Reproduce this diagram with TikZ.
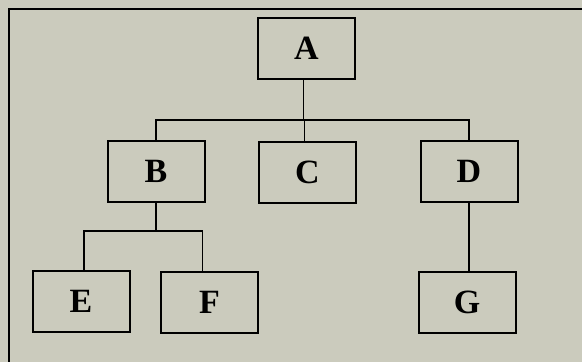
\documentclass[tikz,border=0pt]{standalone}
\usepackage{fontspec}
\setmainfont{Liberation Serif}
\usepackage{tikz}

\definecolor{paper}{RGB}{203,203,189}

\begin{document}
\begin{tikzpicture}[x=1pt, y=-1pt,
        box/.style={draw, line width=2pt, minimum width=97pt, minimum height=61pt,
                    inner sep=0pt, font=\bfseries\fontsize{34}{34}\selectfont},
        link/.style={line width=1.2pt}]
    \fill[paper] (0, 0) rectangle (582, 362);
    \useasboundingbox (0, 0) rectangle (582, 362);
    % frame, only the top and left edges show
    \draw[line width=2.5pt] (9, 362) -- (9, 9) -- (582, 9);

    \node[box] (a) at (306.5, 48) {A};
    \node[box] (b) at (156, 171.5) {B};
    \node[box] (c) at (307.5, 172) {C};
    \node[box] (d) at (469, 171.5) {D};
    \node[box] (e) at (81, 301) {E};
    \node[box] (f) at (209.5, 302.5) {F};
    \node[box] (g) at (467, 302) {G};

    \coordinate (top) at (304, 120);
    \coordinate (fork) at (155, 231);

    \draw[link] ([xshift=-3pt]a.south) -- ([xshift=-3pt]a.south |- top);
    \draw[link] (b.north) |- (top) -| (d.north);
    \draw[link] ([xshift=-3pt]c.north) -- ([xshift=-3pt]c.north |- top);
    \draw[link] (b.south) -- (b.south |- fork);
    \draw[link] ([xshift=3pt]e.north) |- (fork) -| ([xshift=-7pt]f.north);
    \draw[link] (d.south) -- (d.south |- g.north);
\end{tikzpicture}
\end{document}
